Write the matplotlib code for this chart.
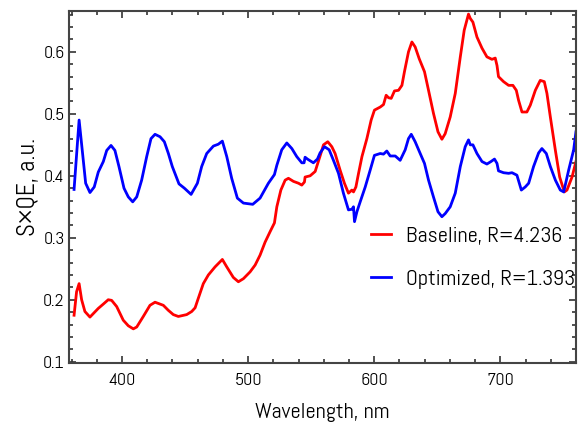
import matplotlib
matplotlib.use("Agg")
import matplotlib.pyplot as plt
from matplotlib.ticker import MultipleLocator

plt.rcParams['font.family'] = ['Abel', 'DejaVu Sans']

# Baseline spectrum (red)
base_wl = [362, 364, 366, 368, 370.6, 374.6, 381.2, 385.2, 389.1, 391.8, 395.8, 401, 405, 409,
           411.7, 416.9, 422.2, 426.2, 432.8, 436.7, 440.7, 444.7, 451.3, 455.3, 458, 459.8,
           464.5, 468.5, 473.8, 479.6, 483.1, 488.3, 492.3, 496.3, 501.6, 505.6, 509.5, 513.5,
           517.5, 520.9, 522.8, 526, 529.4, 532, 536, 540, 542.6, 544.7, 545.2, 549.2, 553.2,
           557.1, 559.8, 563.2, 566.4, 569, 573, 576.4, 579.6, 582.3, 583.6, 585.5, 587.6,
           590.3, 594.2, 597.6, 600.2, 604.8, 607.4, 609.5, 611.4, 613.5, 616.1, 619.3, 622,
           624, 627.2, 629.9, 632.5, 635.7, 639.9, 643.1, 647, 650.6, 653.7, 656.3, 660.3,
           664.3, 668.3, 671.4, 674.8, 676.2, 678.3, 681.5, 685.5, 689.4, 693.4, 696, 697.4,
           698.6, 702.6, 706.6, 710, 712.7, 714.5, 717.2, 721.1, 723.8, 727.8, 731.7, 734.9,
           737, 739.7, 743.7, 747.1, 750.8, 752.9, 756.9, 760]
base_val = [0.175, 0.213, 0.226, 0.200, 0.181, 0.172, 0.186, 0.193, 0.200, 0.199, 0.189, 0.167,
            0.158, 0.153, 0.156, 0.173, 0.191, 0.196, 0.191, 0.183, 0.176, 0.173, 0.176, 0.181,
            0.187, 0.198, 0.226, 0.240, 0.253, 0.265, 0.253, 0.236, 0.229, 0.234, 0.245, 0.256,
            0.272, 0.293, 0.310, 0.324, 0.350, 0.377, 0.393, 0.396, 0.391, 0.388, 0.385, 0.390,
            0.398, 0.400, 0.407, 0.432, 0.450, 0.455, 0.447, 0.436, 0.409, 0.388, 0.372, 0.377,
            0.374, 0.382, 0.404, 0.431, 0.460, 0.490, 0.506, 0.511, 0.515, 0.530, 0.526, 0.525,
            0.537, 0.538, 0.546, 0.568, 0.600, 0.616, 0.608, 0.589, 0.568, 0.538, 0.501, 0.471,
            0.459, 0.468, 0.495, 0.533, 0.592, 0.635, 0.661, 0.654, 0.648, 0.624, 0.606, 0.592,
            0.588, 0.590, 0.578, 0.560, 0.552, 0.546, 0.546, 0.538, 0.522, 0.503, 0.503, 0.514,
            0.538, 0.554, 0.552, 0.533, 0.495, 0.441, 0.398, 0.374, 0.377, 0.398, 0.423]

# Optimized spectrum (blue)
opt_wl = [362, 366, 368.5, 371.2, 374.6, 378, 381.2, 385.2, 387.9, 391.3, 394.4, 397.6, 401.6,
          405, 408.5, 411.7, 415.6, 419.6, 423, 426.2, 430.2, 433.6, 436.8, 439.9, 445.2, 449.5,
          454.8, 459.8, 463.2, 467.2, 472.5, 476.4, 479.6, 483.1, 487, 491.5, 496.3, 503.7,
          509.5, 516.1, 520.9, 522.8, 526.7, 530.7, 534.7, 538.6, 542.6, 544.4, 545.2, 547.1,
          551.8, 555, 557.1, 560.6, 564.3, 567.7, 571.7, 575.6, 579.6, 582.3, 583.6, 584.4,
          586.3, 588.9, 592.9, 596.8, 600.2, 604.8, 607.4, 610, 612.7, 616.7, 620.6, 624.6,
          627.2, 629.4, 632.5, 636.5, 639.9, 643.1, 647, 650.6, 653.7, 656.3, 660.3, 664.3,
          668.3, 672.2, 674.8, 676.2, 678.3, 681.5, 685.5, 689.4, 692.6, 695.4, 697.4, 698.6,
          702.6, 706.6, 709.3, 713.2, 715.1, 716.7, 719.8, 722.5, 726.4, 730.4, 733, 736.5,
          739.7, 743.7, 747.6, 750.3, 754.2, 758.2, 760]
opt_val = [0.378, 0.490, 0.441, 0.388, 0.373, 0.382, 0.406, 0.423, 0.441, 0.449, 0.441, 0.415,
           0.380, 0.366, 0.358, 0.366, 0.393, 0.431, 0.460, 0.467, 0.463, 0.455, 0.436, 0.415,
           0.387, 0.380, 0.370, 0.388, 0.415, 0.436, 0.448, 0.451, 0.456, 0.431, 0.396, 0.364,
           0.356, 0.354, 0.364, 0.388, 0.402, 0.417, 0.442, 0.453, 0.444, 0.431, 0.421, 0.421,
           0.430, 0.427, 0.421, 0.427, 0.437, 0.447, 0.442, 0.425, 0.404, 0.372, 0.345, 0.346,
           0.350, 0.326, 0.342, 0.358, 0.382, 0.409, 0.433, 0.436, 0.435, 0.440, 0.432, 0.432,
           0.425, 0.442, 0.460, 0.467, 0.455, 0.436, 0.420, 0.393, 0.366, 0.342, 0.334, 0.339,
           0.350, 0.372, 0.415, 0.447, 0.458, 0.450, 0.450, 0.436, 0.423, 0.419, 0.423, 0.427,
           0.420, 0.408, 0.405, 0.404, 0.405, 0.401, 0.388, 0.377, 0.382, 0.388, 0.415, 0.437,
           0.444, 0.436, 0.415, 0.393, 0.377, 0.374, 0.409, 0.442, 0.471]

labels = ['Baseline, R=4.236', 'Optimized, R=1.393']

fig = plt.figure(figsize=(5.8, 4.23), dpi=100)
ax = fig.add_axes([0.119, 0.142, 0.874, 0.832])

ax.plot(base_wl, base_val, color='#ff0000', lw=2, label=labels[0])
ax.plot(opt_wl, opt_val, color='#0000ff', lw=2, label=labels[1])

ax.set_xlim(358, 760)
ax.set_ylim(0.098, 0.666)
ax.xaxis.set_major_locator(MultipleLocator(100))
ax.xaxis.set_minor_locator(MultipleLocator(20))
ax.yaxis.set_major_locator(MultipleLocator(0.1))
ax.yaxis.set_minor_locator(MultipleLocator(0.02))
ax.tick_params(which='both', direction='in', top=True, right=True, color='#333333',
               labelsize=13, width=1.2)
ax.tick_params(axis='x', pad=7)
ax.tick_params(axis='y', pad=3)
ax.tick_params(which='major', length=5)
ax.tick_params(which='minor', length=3)
for s in ax.spines.values():
    s.set_color('#444444')
    s.set_linewidth(1.5)

ax.set_xlabel('Wavelength, nm', fontsize=16, labelpad=10)
ax.set_ylabel('S×QE, a.u.', fontsize=18, labelpad=2)

ax.legend(frameon=False, fontsize=16, loc='center left', bbox_to_anchor=(0.595, 0.30),
          handlelength=0.9, handletextpad=0.7, labelspacing=1.05, borderpad=0, borderaxespad=0)

fig.savefig('out.png', dpi=100)
